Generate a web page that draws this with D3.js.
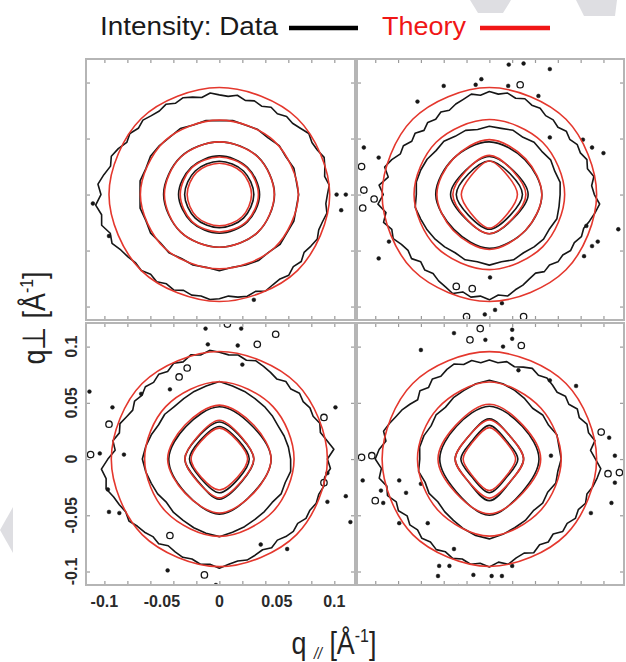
<!DOCTYPE html>
<html>
<head>
<meta charset="utf-8">
<script src="https://cdnjs.cloudflare.com/ajax/libs/d3/7.8.5/d3.min.js"></script>
<style>
  body { margin: 0; background: #fff; }
  svg { display: block; }
  .tickLabel { font-family: "Liberation Sans", Arial, sans-serif; font-weight: bold; font-size: 16px; fill: #2a2a2a; }
  .narrow { font-family: "Liberation Sans Narrow", "Arial Narrow", "Liberation Sans", sans-serif; }
</style>
</head>
<body>
<div id="chart"></div>
<script>
var WIDTH = 626, HEIGHT = 662;

// tick positions (A^-1)
var X_TICKS = [-0.1, -0.08, -0.06, -0.04, -0.02, 0, 0.02, 0.04, 0.06, 0.08, 0.1];
var Y_TICKS = [-0.1, -0.05, 0, 0.05, 0.1];
var AXIS_LABELS = [-0.1, -0.05, 0, 0.05, 0.1];

// theory contours: radius at 0,45,...,315 degrees, outer ring first
var theoryTL = [
  [0.096, 0.096, 0.0955, 0.096, 0.096, 0.096, 0.0955, 0.096],
  [0.0687, 0.0675, 0.0664, 0.0675, 0.0687, 0.0675, 0.0664, 0.0675],
  [0.0478, 0.0474, 0.047, 0.0474, 0.0478, 0.0474, 0.047, 0.0474],
  [0.034, 0.0338, 0.0335, 0.0338, 0.034, 0.0338, 0.0335, 0.0338],
  [0.028, 0.028, 0.028, 0.028, 0.028, 0.028, 0.028, 0.028]];
var theoryTR = [
  [0.094, 0.095, 0.0955, 0.095, 0.094, 0.095, 0.0955, 0.095],
  [0.066, 0.066, 0.067, 0.066, 0.066, 0.066, 0.067, 0.066],
  [0.046, 0.045, 0.049, 0.045, 0.046, 0.045, 0.049, 0.045],
  [0.032, 0.0295, 0.035, 0.0295, 0.032, 0.0295, 0.035, 0.0295],
  [0.0246, 0.0232, 0.030, 0.0232, 0.0246, 0.0232, 0.030, 0.0232]];
var theoryBL = [
  [0.094, 0.095, 0.0957, 0.095, 0.094, 0.095, 0.0957, 0.095],
  [0.065, 0.066, 0.0688, 0.066, 0.065, 0.066, 0.0688, 0.066],
  [0.045, 0.0425, 0.048, 0.0425, 0.045, 0.0425, 0.048, 0.0425],
  [0.030, 0.0275, 0.0345, 0.0275, 0.030, 0.0275, 0.0345, 0.0275],
  [0.0246, 0.0225, 0.0275, 0.0225, 0.0246, 0.0225, 0.0275, 0.0225]];
var theoryBR = [
  [0.094, 0.095, 0.0955, 0.095, 0.094, 0.095, 0.0955, 0.095],
  [0.063, 0.064, 0.0685, 0.064, 0.063, 0.064, 0.0685, 0.064],
  [0.045, 0.042, 0.0487, 0.042, 0.045, 0.042, 0.0487, 0.042],
  [0.030, 0.027, 0.0347, 0.027, 0.030, 0.027, 0.0347, 0.027],
  [0.023, 0.021, 0.028, 0.021, 0.023, 0.021, 0.028, 0.021]];

// measured contours, inner three rings: radius at 0,45,...,315 degrees
var dataInnerTL = [
  [0.048, 0.0475, 0.047, 0.0475, 0.0485, 0.0475, 0.047, 0.0475],
  [0.035, 0.0345, 0.0345, 0.0345, 0.0355, 0.0345, 0.0345, 0.0345],
  [0.030, 0.0297, 0.0297, 0.0297, 0.0302, 0.0297, 0.0297, 0.0297]];
var dataInnerTR = [
  [0.046, 0.044, 0.047, 0.045, 0.047, 0.044, 0.048, 0.045],
  [0.034, 0.030, 0.034, 0.030, 0.034, 0.030, 0.035, 0.030],
  [0.029, 0.026, 0.030, 0.026, 0.029, 0.026, 0.031, 0.026]];
var dataInnerBL = [
  [0.045, 0.041, 0.0465, 0.041, 0.044, 0.042, 0.049, 0.042],
  [0.030, 0.027, 0.033, 0.027, 0.030, 0.027, 0.0357, 0.028],
  [0.026, 0.0235, 0.029, 0.0235, 0.026, 0.0235, 0.030, 0.024]];
var dataInnerBR = [
  [0.0435, 0.041, 0.047, 0.041, 0.0435, 0.041, 0.050, 0.041],
  [0.030, 0.027, 0.0357, 0.027, 0.030, 0.027, 0.037, 0.027],
  [0.025, 0.022, 0.030, 0.022, 0.025, 0.022, 0.030, 0.022]];

// measured second ring: radius every 10 degrees
var dataSecondTL = [0.069, 0.068, 0.069, 0.067, 0.068, 0.066, 0.067, 0.066, 0.067, 0.066, 0.067, 0.066,
  0.068, 0.067, 0.068, 0.069, 0.068, 0.070, 0.069, 0.070, 0.068, 0.069, 0.067, 0.068,
  0.066, 0.067, 0.066, 0.068, 0.066, 0.067, 0.068, 0.067, 0.069, 0.068, 0.069, 0.068];
var dataSecondTR = [0.062, 0.063, 0.061, 0.062, 0.060, 0.061, 0.059, 0.061, 0.060, 0.061, 0.059, 0.061,
  0.060, 0.062, 0.061, 0.063, 0.064, 0.065, 0.064, 0.066, 0.064, 0.063, 0.062, 0.061,
  0.060, 0.062, 0.061, 0.063, 0.061, 0.062, 0.060, 0.061, 0.062, 0.061, 0.063, 0.062];
var dataSecondBL = [0.062, 0.061, 0.060, 0.059, 0.060, 0.061, 0.062, 0.064, 0.066, 0.069, 0.066, 0.064,
  0.062, 0.061, 0.062, 0.061, 0.063, 0.065, 0.067, 0.065, 0.063, 0.062, 0.060, 0.062,
  0.063, 0.065, 0.067, 0.069, 0.066, 0.064, 0.062, 0.061, 0.060, 0.062, 0.061, 0.063];
var dataSecondBR = [0.063, 0.062, 0.063, 0.060, 0.061, 0.059, 0.062, 0.065, 0.068, 0.070, 0.068, 0.065,
  0.063, 0.060, 0.061, 0.059, 0.061, 0.062, 0.061, 0.063, 0.060, 0.061, 0.059, 0.061,
  0.063, 0.066, 0.069, 0.071, 0.068, 0.065, 0.063, 0.060, 0.061, 0.059, 0.062, 0.061];

// measured outer ring: radius every 5 degrees
var dataOuterTL = [0.094, 0.096, 0.093, 0.095, 0.097, 0.094, 0.093,
  0.095, 0.092, 0.090, 0.091, 0.088, 0.090, 0.087, 0.089, 0.087, 0.090, 0.088,
  0.089, 0.091, 0.088, 0.090, 0.092, 0.090, 0.093, 0.091, 0.092, 0.094, 0.092, 0.095, 0.093,
  0.097, 0.100, 0.098, 0.102, 0.106, 0.103, 0.108, 0.104, 0.106, 0.101, 0.103, 0.099,
  0.097, 0.095, 0.096, 0.093, 0.095, 0.092, 0.094, 0.091, 0.093, 0.092, 0.094, 0.093,
  0.091, 0.093, 0.094, 0.092, 0.095, 0.093, 0.092, 0.094, 0.091, 0.093, 0.090, 0.092, 0.094, 0.092, 0.093, 0.095, 0.093];
var dataOuterTR = [0.092, 0.090, 0.093, 0.089, 0.091, 0.088, 0.089,
  0.086, 0.088, 0.085, 0.087, 0.086, 0.089, 0.088, 0.091, 0.089, 0.092, 0.090,
  0.092, 0.089, 0.091, 0.088, 0.086, 0.083, 0.085, 0.082, 0.084, 0.081, 0.085, 0.083, 0.087,
  0.086, 0.091, 0.095, 0.090, 0.097, 0.093, 0.098, 0.092, 0.096, 0.091, 0.093, 0.089,
  0.087, 0.089, 0.085, 0.088, 0.086, 0.089, 0.091, 0.094, 0.090, 0.093, 0.091, 0.094,
  0.090, 0.092, 0.088, 0.086, 0.083, 0.081, 0.084, 0.082, 0.085, 0.084, 0.087, 0.086, 0.089, 0.088, 0.091, 0.094, 0.097];
var dataOuterBL = [0.094, 0.100, 0.095, 0.091, 0.093, 0.090, 0.091,
  0.089, 0.091, 0.088, 0.090, 0.087, 0.089, 0.091, 0.093, 0.091, 0.094, 0.093,
  0.095, 0.097, 0.094, 0.096, 0.092, 0.094, 0.090, 0.092, 0.089, 0.091, 0.088, 0.090, 0.087,
  0.089, 0.092, 0.090, 0.094, 0.091, 0.097, 0.103, 0.100, 0.102, 0.098, 0.096, 0.094,
  0.096, 0.093, 0.092, 0.090, 0.092, 0.089, 0.091, 0.093, 0.092, 0.095, 0.094, 0.097,
  0.094, 0.092, 0.093, 0.091, 0.089, 0.091, 0.088, 0.090, 0.091, 0.089, 0.092, 0.091, 0.093, 0.092, 0.094, 0.093, 0.097];
var dataOuterBR = [0.093, 0.089, 0.094, 0.090, 0.091, 0.087, 0.089,
  0.085, 0.087, 0.084, 0.086, 0.088, 0.086, 0.089, 0.087, 0.085, 0.088, 0.086,
  0.088, 0.086, 0.089, 0.087, 0.090, 0.088, 0.085, 0.087, 0.083, 0.086, 0.082, 0.085, 0.088,
  0.090, 0.093, 0.096, 0.092, 0.097, 0.100, 0.095, 0.098, 0.093, 0.095, 0.090, 0.092,
  0.088, 0.091, 0.089, 0.092, 0.090, 0.093, 0.091, 0.094, 0.092, 0.095, 0.093, 0.096,
  0.092, 0.095, 0.091, 0.089, 0.092, 0.088, 0.090, 0.087, 0.091, 0.089, 0.092, 0.090, 0.093, 0.091, 0.094, 0.096, 0.098];

// isolated specks [q//, qperp, isLoop]
var specksTL = [[0.102, 0, 0], [0.110, 0, 0], [0.106, -0.014, 0], [-0.110, -0.008, 0], [0.030, -0.094, 0], [-0.096, -0.037, 0]];
var specksTR = [[-0.007, 0.103, 0], [0.0165, 0.097, 0], [0.027, 0.098, 1], [-0.063, 0.083, 0], [0.043, 0.088, 0],
  [0.017, 0.116, 0], [0.030, 0.117, 0], [0.053, 0.112, 0], [-0.040, 0.097, 0], [-0.012, 0.098, 0],
  [0.053, 0.051, 0], [0.082, 0.049, 0], [0.090, 0.042, 0], [0.100, 0.037, 0], [0.113, -0.031, 0],
  [0.090, -0.046, 0], [0.095, -0.042, 0], [0.085, -0.028, 0], [0.083, -0.055, 0],
  [-0.110, 0.042, 0], [-0.097, 0.033, 0], [-0.112, 0.025, 1], [-0.110, 0.004, 1], [-0.111, -0.012, 1],
  [-0.101, -0.004, 1], [-0.088, -0.042, 0], [-0.097, -0.057, 0],
  [0.0006, -0.074, 0], [-0.020, -0.109, 1], [-0.004, -0.107, 0], [0.005, -0.103, 0], [0.011, -0.097, 0],
  [0.030, -0.109, 1], [-0.029, -0.082, 1], [-0.015, -0.084, 1]];
var specksBL = [[-0.012, 0.116, 0], [0.007, 0.120, 1], [0.019, 0.116, 0], [0.049, 0.111, 1], [-0.010, 0.102, 0],
  [0.016, 0.101, 0], [0.033, 0.102, 1], [0.020, 0.084, 0], [-0.028, 0.081, 1], [-0.035, 0.073, 1],
  [-0.043, 0.062, 0], [-0.113, 0.060, 0], [-0.093, 0.046, 0], [-0.068, 0.058, 0], [-0.096, 0.031, 1],
  [-0.112, 0.004, 1], [-0.104, 0.005, 0], [-0.083, 0.004, 0], [-0.097, -0.027, 0], [-0.096, -0.047, 0],
  [-0.087, -0.048, 0], [-0.043, -0.068, 1], [-0.045, -0.099, 0], [-0.013, -0.103, 1], [-0.003, -0.112, 0],
  [0.036, -0.076, 0], [0.059, -0.080, 0], [0.091, -0.021, 1], [0.094, -0.0125, 0], [0.094, -0.038, 0],
  [0.110, -0.033, 0], [0.101, 0.046, 0], [0.091, 0.037, 1], [0.114, -0.056, 0]];
var specksBR = [[-0.008, 0.116, 1], [-0.017, 0.106, 1], [-0.0035, 0.106, 0], [0.020, 0.115, 0], [0.020, 0.107, 0],
  [0.028, 0.101, 1], [0.012, 0.100, 0], [-0.060, 0.097, 0], [-0.031, 0.112, 0], [0.0255, 0.079, 0],
  [0.053, 0.070, 0], [0.076, 0.065, 0],
  [-0.112, 0.0015, 1], [-0.103, 0.003, 1], [-0.111, -0.019, 0], [-0.100, -0.037, 1],
  [-0.079, -0.019, 0], [-0.095, -0.028, 0], [-0.073, -0.030, 0], [-0.093, -0.039, 0], [-0.079, -0.057, 0],
  [-0.054, -0.057, 0], [-0.060, -0.022, 0],
  [0.098, 0.024, 1], [0.105, 0.019, 0], [0.110, 0.003, 0], [0.104, -0.013, 1], [0.114, -0.012, 1],
  [0.110, -0.021, 0], [0.107, -0.039, 0], [0.089, -0.048, 0], [0.054, 0.003, 0],
  [-0.031, -0.080, 0], [-0.044, -0.095, 0], [-0.035, -0.095, 0], [-0.045, -0.104, 0], [-0.014, -0.103, 0],
  [0.002, -0.104, 0], [0.011, -0.104, 0], [0.020, -0.095, 0], [-0.027, -0.113, 0]];

var X_DOMAIN = [-0.116, 0.118];
var Y_DOMAIN = [-0.112, 0.121];
var COLS = [[86, 355], [357, 624]];
var ROWS = [[59, 320], [323, 585]];

var DATA_COLOR = "#161616";
var THEORY_COLOR = "#e4372d";
var FRAME_COLOR = "#b5b5b5";

var panels = [
  {id: "tl", col: 0, row: 0, theory: theoryTL, inner: dataInnerTL, second: dataSecondTL, outer: dataOuterTL, specks: specksTL},
  {id: "tr", col: 1, row: 0, theory: theoryTR, inner: dataInnerTR, second: dataSecondTR, outer: dataOuterTR, specks: specksTR},
  {id: "bl", col: 0, row: 1, theory: theoryBL, inner: dataInnerBL, second: dataSecondBL, outer: dataOuterBL, specks: specksBL},
  {id: "br", col: 1, row: 1, theory: theoryBR, inner: dataInnerBR, second: dataSecondBR, outer: dataOuterBR, specks: specksBR}
];

var svg = d3.select("#chart")
  .append("svg")
  .attr("width", WIDTH)
  .attr("height", HEIGHT);

//faint watermark shapes of the source page
var marks = svg.append("g").attr("fill", "#dedee2");
marks.append("polygon").attr("points", "470,0 511,0 503,13 478,13");
marks.append("polygon").attr("points", "576,0 617,0 615,16 584,16");
marks.append("polygon").attr("points", "0,530 13,507 13,553");

//closed contour through radii spaced evenly in angle
function ringPath(x, y, radii, curve) {
  var n = radii.length;
  return d3.line()
    .x(function(d, i) { return x(d * Math.cos(2 * Math.PI * i / n)); })
    .y(function(d, i) { return y(d * Math.sin(2 * Math.PI * i / n)); })
    .curve(curve)(radii);
}

panels.forEach(function(p) {
  var x0 = COLS[p.col][0], x1 = COLS[p.col][1];
  var y0 = ROWS[p.row][0], y1 = ROWS[p.row][1];
  var x = d3.scaleLinear().domain(X_DOMAIN).range([x0, x1]);
  var y = d3.scaleLinear().domain(Y_DOMAIN).range([y1, y0]);

  svg.append("clipPath").attr("id", "clip-" + p.id)
    .append("rect").attr("x", x0).attr("y", y0).attr("width", x1 - x0).attr("height", y1 - y0);

  var g = svg.append("g").attr("clip-path", "url(#clip-" + p.id + ")");

  //measured intensity contours
  var dataG = g.append("g")
    .attr("fill", "none")
    .attr("stroke", DATA_COLOR)
    .attr("stroke-width", 1.6)
    .attr("stroke-linejoin", "round");
  dataG.append("path").attr("d", ringPath(x, y, p.outer, d3.curveLinearClosed));
  dataG.append("path").attr("d", ringPath(x, y, p.second, d3.curveLinearClosed));
  dataG.selectAll(".inner")
    .data(p.inner)
    .enter()
    .append("path")
    .attr("class", "inner")
    .attr("d", function(d) { return ringPath(x, y, d, d3.curveCatmullRomClosed); });

  //specks: filled dots and tiny loops
  g.selectAll(".speck")
    .data(p.specks)
    .enter()
    .append("circle")
    .attr("class", "speck")
    .attr("cx", function(d) { return x(d[0]); })
    .attr("cy", function(d) { return y(d[1]); })
    .attr("r", function(d) { return d[2] ? 3.2 : 1.9; })
    .attr("fill", function(d) { return d[2] ? "none" : DATA_COLOR; })
    .attr("stroke", DATA_COLOR)
    .attr("stroke-width", function(d) { return d[2] ? 1.3 : 0.5; });

  //theory contours
  g.append("g")
    .attr("fill", "none")
    .attr("stroke", THEORY_COLOR)
    .attr("stroke-width", 1.6)
    .selectAll("path")
    .data(p.theory)
    .enter()
    .append("path")
    .attr("d", function(d) { return ringPath(x, y, d, d3.curveCatmullRomClosed); });

  //inward ticks on all four sides
  var tickG = svg.append("g").attr("class", "ticks");
  tickG.append("g").attr("transform", "translate(0," + y0 + ")")
    .call(d3.axisBottom(x).tickValues(X_TICKS).tickSize(4).tickFormat(""));
  tickG.append("g").attr("transform", "translate(0," + y1 + ")")
    .call(d3.axisTop(x).tickValues(X_TICKS).tickSize(4).tickFormat(""));
  tickG.append("g").attr("transform", "translate(" + x0 + ",0)")
    .call(d3.axisRight(y).tickValues(Y_TICKS).tickSize(4).tickFormat(""));
  tickG.append("g").attr("transform", "translate(" + x1 + ",0)")
    .call(d3.axisLeft(y).tickValues(Y_TICKS).tickSize(4).tickFormat(""));
  tickG.selectAll(".domain").remove();
  tickG.selectAll("line").attr("stroke", "#9a9a9a").attr("stroke-width", 1.2);

  svg.append("rect")
    .attr("x", x0).attr("y", y0)
    .attr("width", x1 - x0).attr("height", y1 - y0)
    .attr("fill", "none")
    .attr("stroke", FRAME_COLOR)
    .attr("stroke-width", 2);

  //tick labels only on the lower-left panel
  if (p.id == "bl") {
    svg.selectAll(".xLabel")
      .data(AXIS_LABELS)
      .enter()
      .append("text")
      .attr("class", "tickLabel xLabel")
      .attr("x", function(d) { return x(d); })
      .attr("y", 607)
      .attr("text-anchor", "middle")
      .text(function(d) { return String(d); });
    svg.selectAll(".yLabel")
      .data(AXIS_LABELS)
      .enter()
      .append("text")
      .attr("class", "tickLabel yLabel")
      .attr("transform", function(d) { return "translate(77," + y(d) + ") rotate(-90)"; })
      .attr("text-anchor", "middle")
      .text(function(d) { return String(d); });
  }
});

//axis titles (squeezed horizontally like a narrow face)
var xTitle = svg.append("text")
  .attr("class", "narrow")
  .attr("transform", "translate(334,654) scale(0.84,1)")
  .attr("text-anchor", "middle")
  .attr("font-size", 32)
  .attr("fill", "#222");
xTitle.append("tspan").text("q ");
xTitle.append("tspan").attr("font-size", 17).attr("font-style", "italic").attr("dy", 5).text("//");
xTitle.append("tspan").attr("dy", -5).text(" [Å");
xTitle.append("tspan").attr("font-size", 19).attr("dy", -12).text("-1");
xTitle.append("tspan").attr("dy", 12).text("]");

var yTitle = svg.append("text")
  .attr("class", "narrow")
  .attr("transform", "translate(45,318) rotate(-90) scale(0.84,1)")
  .attr("text-anchor", "middle")
  .attr("font-size", 32)
  .attr("fill", "#222");
yTitle.append("tspan").text("q⊥ [Å");
yTitle.append("tspan").attr("font-size", 19).attr("dy", -12).text("-1");
yTitle.append("tspan").attr("dy", 12).text("]");

//legend
var legend = svg.append("g").attr("class", "narrow").attr("font-size", 26);
legend.append("text").attr("x", 100).attr("y", 35).attr("fill", "#1a1a1a")
  .attr("textLength", 178).attr("lengthAdjust", "spacingAndGlyphs").text("Intensity: Data");
legend.append("line").attr("x1", 289).attr("x2", 358).attr("y1", 28).attr("y2", 28)
  .attr("stroke", "#000").attr("stroke-width", 4.5);
legend.append("text").attr("x", 382).attr("y", 35).attr("fill", "#f01616")
  .attr("textLength", 84).attr("lengthAdjust", "spacingAndGlyphs").text("Theory");
legend.append("line").attr("x1", 480).attr("x2", 550).attr("y1", 28).attr("y2", 28)
  .attr("stroke", "#f01616").attr("stroke-width", 4.5);
</script>
</body>
</html>
